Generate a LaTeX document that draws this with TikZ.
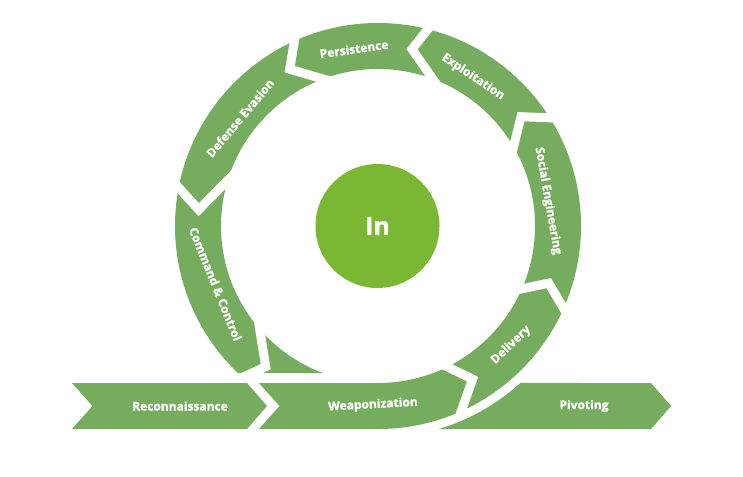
\documentclass[tikz,border=0pt]{standalone}
\usepackage{fontspec}
\setsansfont{Open Sans}[BoldFeatures={FakeBold=1.2}]
\usetikzlibrary{calc}
\definecolor{segc}{HTML}{76AC5E}
\definecolor{corec}{HTML}{7AB833}
\newcommand\chev[3]{%
  \coordinate (po) at ($(C)+(#1:203)$);
  \coordinate (pi) at ($(C)+(#2:157)$);
  \coordinate (pt) at ($(C)+(#3:180)$);
  \draw[gapline] ($(pt)!1.5!(po)$) -- (pt) -- ($(pt)!1.5!(pi)$);}
\begin{document}
\begin{tikzpicture}[x=1pt,y=-1pt,
  gapline/.style={draw=white, line width=9pt, line join=miter, miter limit=10},
  band/.style={fill=segc},
  lbl/.style={text=white, font=\sffamily\bfseries\fontsize{12}{13}\selectfont, inner sep=0pt}]
\useasboundingbox (0,0) rectangle (743,476);
\fill[white] (0,0) rectangle (743,476);
\coordinate (C) at (378,226);
% loop
\begin{scope}
  \clip (0,0) -- (743,0) -- (743,476) -- (378,476) -- (378,373) -- (0,373) -- cycle;
  \fill[segc, even odd rule] (C) circle[radius=203] (C) circle[radius=157];
\end{scope}
% gaps between the loop segments
\chev{65.8}{63.8}{58.3}
\chev{23.9}{23.6}{18.5}
\chev{327.8}{329.7}{322.6}
\chev{284.2}{290.4}{280.9}
\chev{245.7}{249.5}{240.6}
\chev{190.9}{197.0}{185.2}
\chev{131.8}{138.9}{128.6}
% straight band
\fill[band] (72,383) -- (247,383) -- (267,406) -- (247,429) -- (72,429) -- (92.5,406) -- cycle;
\fill[band] (259,383) -- (380,383) -- (380,429) -- (259,429) -- (279.5,406) -- cycle;
\fill[band] (438.9,429) arc[start angle=73.3, end angle=47.8, radius=212] -- (651,383) -- (671,406) -- (651,429) -- cycle;
% centre
\node[circle, fill=corec, minimum size=124pt, inner sep=0pt, text=white,
      font=\sffamily\bfseries\fontsize{25}{27}\selectfont] (in) at (377.5,226) {In};
% labels
\node[lbl, rotate=8] (persistence) at (354,49) {Persistence};
\node[lbl, rotate=-34] (exploitation) at (473,77) {Exploitation};
\node[lbl, rotate=50] (defense) at (240,118) {Defense Evasion};
\node[lbl, rotate=-80] (social) at (548,201) {Social Engineering};
\node[lbl, rotate=44] (delivery) at (511,345) {Delivery};
\node[lbl, rotate=-68] (command) at (215.5,284) {Command \& Control};
\node[lbl, rotate=3] (weapon) at (373,405) {Weaponization};
\node[lbl] (recon) at (180,406) {Reconnaissance};
\node[lbl] (pivot) at (584,406) {Pivoting};
\end{tikzpicture}
\end{document}
